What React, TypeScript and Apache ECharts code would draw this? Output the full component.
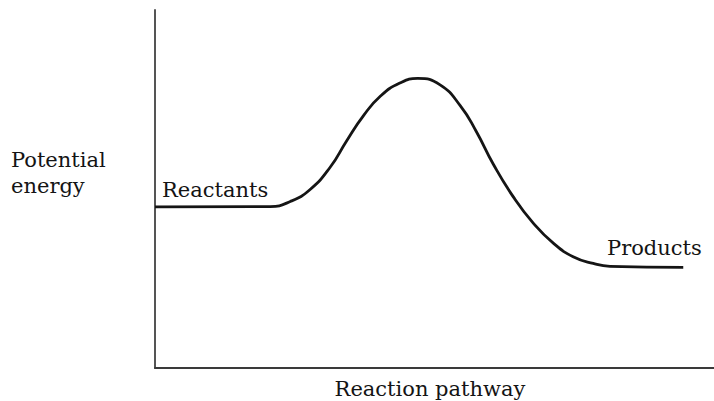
import React, { useEffect, useRef } from "react";
import * as echarts from "echarts";

// Reaction coordinate (0-100) and potential energy (0-100)
const pathway = [0, 20.6, 24.2, 27.7, 31.3, 34.3, 37.3, 40.3, 43.8, 47.0, 51.0, 54.6, 57.5, 60.5, 64.1, 67.7, 71.3, 74.8, 78.4, 81.4, 94.5];
const energy = [45, 45.1, 46.5, 49.8, 56.0, 63.5, 70.5, 75.9, 79.6, 80.9, 79.1, 73.3, 66.0, 57.0, 47.8, 40.4, 34.8, 31.1, 29.2, 28.4, 28.1];

const yTitleLines = ["Potential", "energy"];
const xTitle = "Reaction pathway";
const startLabel = "Reactants";
const endLabel = "Products";

const FONT = "'DejaVu Serif', 'Liberation Serif', serif";

export default function App() {
  const ref = useRef<HTMLDivElement>(null);
  useEffect(() => {
    if (!ref.current) return;
    const chart = echarts.init(ref.current, undefined, { renderer: "svg" });
    const textStyle = (text: string, x: number, y: number, align = "left") => ({
      type: "text",
      x,
      y,
      style: {
        text,
        fontFamily: FONT,
        fontSize: 21,
        fill: "#141414",
        align,
        verticalAlign: "middle",
      },
    });
    chart.setOption({
      animation: false,
      backgroundColor: "#ffffff",
      grid: { left: 155, right: 0, top: 10, bottom: 33, containLabel: false },
      xAxis: {
        type: "value",
        min: 0,
        max: 100,
        axisLine: { show: true, lineStyle: { color: "#3a3a3a", width: 2 } },
        axisTick: { show: false },
        axisLabel: { show: false },
        splitLine: { show: false },
      },
      yAxis: {
        type: "value",
        min: 0,
        max: 100,
        axisLine: { show: true, lineStyle: { color: "#555555", width: 2 } },
        axisTick: { show: false },
        axisLabel: { show: false },
        splitLine: { show: false },
      },
      series: [
        {
          type: "line",
          data: pathway.map((x, i) => [x, energy[i]]),
          smooth: 0.5,
          symbol: "none",
          lineStyle: { color: "#151515", width: 2.8 },
        },
      ],
      graphic: [
        textStyle(yTitleLines[0], 11, 160),
        textStyle(yTitleLines[1], 11, 186),
        textStyle(startLabel, 162, 190),
        textStyle(endLabel, 607, 248),
        textStyle(xTitle, 430, 389, "center"),
      ],
    });
    return () => chart.dispose();
  }, []);
  return <div ref={ref} style={{ width: 714, height: 401, position: "absolute", left: 0, top: 0 }} />;
}
